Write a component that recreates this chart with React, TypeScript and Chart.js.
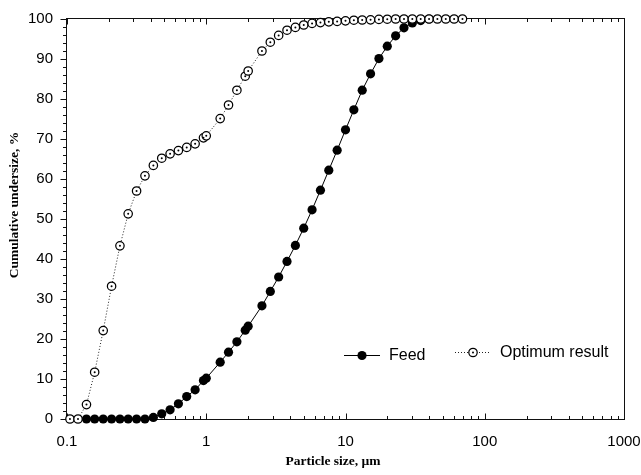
import React, { useEffect, useRef } from 'react';
import { Chart, registerables } from 'chart.js';

Chart.register(...registerables);

// ---- data ----
const FEED_SIZES = [
  0.138, 0.158, 0.182, 0.209, 0.24, 0.275, 0.316, 0.363, 0.417, 0.479, 0.55, 0.631, 0.724, 0.832,
  0.955, 1.0, 1.259, 1.445, 1.66, 1.905, 2.0, 2.512, 2.884, 3.311, 3.802, 4.365, 5.012, 5.754,
  6.607, 7.586, 8.71, 10.0, 11.482, 13.183, 15.136, 17.378, 19.953, 22.909, 26.303, 30.2, 34.674,
  39.811,
];
const FEED_VALUES = [
  0, 0, 0, 0, 0, 0, 0, 0, 0.4, 1.3, 2.3, 3.8, 5.6, 7.3,
  9.6, 10.2, 14.2, 16.7, 19.3, 22.2, 23.2, 28.3, 31.9, 35.5, 39.4, 43.4, 47.7, 52.3,
  57.2, 62.2, 67.2, 72.3, 77.3, 82.2, 86.3, 90.1, 93.2, 95.8, 97.8, 99.0, 99.6,
  100,
];
const OPT_SIZES = [
  0.105, 0.12, 0.138, 0.158, 0.182, 0.209, 0.24, 0.275, 0.316, 0.363, 0.417, 0.479, 0.55, 0.631,
  0.724, 0.832, 0.955, 1.0, 1.259, 1.445, 1.66, 1.905, 2.0, 2.512, 2.884, 3.311, 3.802, 4.365,
  5.012, 5.754, 6.607, 7.586, 8.71, 10.0, 11.482, 13.183, 15.136, 17.378, 19.953, 22.909, 26.303,
  30.2, 34.674, 39.811, 45.709, 52.481, 60.256, 69.183,
];
const OPT_VALUES = [
  0, 0, 3.6, 11.7, 22.1, 33.2, 43.3, 51.3, 57.0, 60.8, 63.4, 65.2, 66.3, 67.1,
  67.9, 68.8, 70.3, 70.8, 75.1, 78.5, 82.2, 85.7, 87.0, 92.0, 94.2, 95.9, 97.2, 97.9,
  98.5, 98.9, 99.1, 99.3, 99.4, 99.55, 99.7, 99.75, 99.8, 99.9, 99.95, 100, 100,
  100, 100, 100, 100, 100, 100, 100,
];
const SERIES_LABELS = ['Feed', 'Optimum result'];
const X_TICKS = [0.1, 1, 10, 100, 1000];
const X_TICK_LABELS = ['0.1', '1', '10', '100', '1000'];
const Y_TICKS = [0, 10, 20, 30, 40, 50, 60, 70, 80, 90, 100];
const Y_TICK_LABELS = ['0', '10', '20', '30', '40', '50', '60', '70', '80', '90', '100'];
const X_TITLE = 'Particle size, µm';
const Y_TITLE = 'Cumulative undersize, %';

const SANS = 'Arial, "Liberation Sans", sans-serif';
const SERIF = '"Times New Roman", "Liberation Serif", serif';

const OPEN_R = 4.2;
const OPEN_BW = 1.25;
const DOT_R = 1.0;

export default function App() {
  const ref = useRef<HTMLCanvasElement | null>(null);

  useEffect(() => {
    if (!ref.current) return;

    const framePlugin = {
      id: 'frameTicks',
      beforeDatasetsDraw(chart: any) {
        const { ctx, chartArea } = chart;
        const { left, right, top, bottom } = chartArea;
        const xs = chart.scales.x;
        const ys = chart.scales.y;
        ctx.save();
        ctx.strokeStyle = '#111';
        ctx.lineWidth = 1;
        const L = Math.round(left) - 0.5;
        const R = Math.round(right) + 0.5;
        const T = Math.round(top) - 0.5;
        const B = Math.round(bottom) + 0.5;
        ctx.strokeRect(L, T, R - L, B - T);
        ctx.beginPath();
        // x ticks (inward, bottom and top)
        for (let d = -1; d <= 3; d++) {
          for (let m = 1; m <= 9; m++) {
            const v = m * Math.pow(10, d);
            if (v > 1000.0001) break;
            const px = Math.round(xs.getPixelForValue(v)) + 0.5;
            const len = m === 1 ? 6 : 3.5;
            ctx.moveTo(px, B);
            ctx.lineTo(px, B - len);
            ctx.moveTo(px, T);
            ctx.lineTo(px, T + len);
          }
        }
        // y ticks (outward, left)
        for (let v = 0; v <= 100; v += 2) {
          const py = Math.round(ys.getPixelForValue(v)) + 0.5;
          const len = v % 10 === 0 ? 6 : 3.5;
          ctx.moveTo(L, py);
          ctx.lineTo(L - len, py);
        }
        ctx.stroke();
        ctx.restore();
      },
      afterDatasetsDraw(chart: any) {
        // centre dots of the open markers, at the library-computed point positions
        const { ctx } = chart;
        const meta = chart.getDatasetMeta(1);
        ctx.save();
        ctx.fillStyle = '#000';
        for (const el of meta.data) {
          ctx.beginPath();
          ctx.arc(el.x, el.y, DOT_R, 0, Math.PI * 2);
          ctx.fill();
        }
        ctx.restore();
      },
      afterDraw(chart: any) {
        const { ctx } = chart;
        ctx.save();
        ctx.fillStyle = '#000';
        // axis titles
        ctx.font = `bold 13.5px ${SERIF}`;
        ctx.textAlign = 'center';
        ctx.textBaseline = 'middle';
        ctx.fillText(X_TITLE, 333, 462);
        ctx.save();
        ctx.translate(14.5, 205);
        ctx.rotate(-Math.PI / 2);
        ctx.fillText(Y_TITLE, 0, 0);
        ctx.restore();

        // legend
        ctx.strokeStyle = '#000';
        ctx.lineWidth = 1;
        ctx.beginPath();
        ctx.moveTo(344, 355.5);
        ctx.lineTo(380, 355.5);
        ctx.stroke();
        ctx.beginPath();
        ctx.arc(362, 355.5, 4.6, 0, Math.PI * 2);
        ctx.fill();
        ctx.font = `16px ${SANS}`;
        ctx.textAlign = 'left';
        ctx.fillText(SERIES_LABELS[0], 389, 356);

        ctx.setLineDash([1, 2]);
        ctx.strokeStyle = '#222';
        ctx.beginPath();
        ctx.moveTo(455, 352.5);
        ctx.lineTo(491, 352.5);
        ctx.stroke();
        ctx.setLineDash([]);
        ctx.beginPath();
        ctx.arc(473, 352.5, OPEN_R, 0, Math.PI * 2);
        ctx.fillStyle = '#fff';
        ctx.fill();
        ctx.lineWidth = OPEN_BW;
        ctx.strokeStyle = '#000';
        ctx.stroke();
        ctx.fillStyle = '#000';
        ctx.beginPath();
        ctx.arc(473, 352.5, DOT_R, 0, Math.PI * 2);
        ctx.fill();
        ctx.fillText(SERIES_LABELS[1], 500, 353);
        ctx.restore();
      },
    };

    const chart = new Chart(ref.current, {
      type: 'line',
      data: {
        datasets: [
          {
            label: SERIES_LABELS[0],
            data: FEED_SIZES.map((s, i) => ({ x: s, y: FEED_VALUES[i] })),
            borderColor: '#000',
            borderWidth: 1,
            pointStyle: 'circle',
            pointRadius: 4.6,
            pointBackgroundColor: '#000',
            pointBorderColor: '#000',
            pointBorderWidth: 0,
            tension: 0,
            clip: false,
            order: 1,
          },
          {
            label: SERIES_LABELS[1],
            data: OPT_SIZES.map((s, i) => ({ x: s, y: OPT_VALUES[i] })),
            borderColor: '#222',
            borderWidth: 1,
            borderDash: [1, 2],
            pointStyle: 'circle',
            pointRadius: OPEN_R,
            pointBackgroundColor: '#fff',
            pointBorderColor: '#000',
            pointBorderWidth: OPEN_BW,
            tension: 0,
            clip: false,
            order: 0,
          },
        ] as any,
      },
      options: {
        animation: false,
        responsive: false,
        maintainAspectRatio: false,
        layout: { padding: { left: 0, top: 19, right: 17, bottom: 0 } },
        plugins: {
          legend: { display: false },
          tooltip: { enabled: false },
          title: { display: false },
        },
        scales: {
          x: {
            type: 'logarithmic',
            min: 0.1,
            max: 1000,
            position: 'bottom',
            grid: { display: false, drawTicks: false },
            border: { display: false },
            afterBuildTicks: (scale: any) => {
              scale.ticks = X_TICKS.map((v) => ({ value: v }));
            },
            afterFit: (scale: any) => {
              scale.height = 56;
              scale.paddingLeft = 0;
              scale.paddingRight = 0;
              scale.paddingTop = 0;
              scale.paddingBottom = 0;
            },
            ticks: {
              autoSkip: false,
              maxRotation: 0,
              minRotation: 0,
              padding: 14,
              color: '#000',
              font: { family: SANS, size: 15 },
              callback: (value: any) => {
                const i = X_TICKS.findIndex((t) => Math.abs(t - Number(value)) / t < 1e-6);
                return i >= 0 ? X_TICK_LABELS[i] : '';
              },
            },
          },
          y: {
            type: 'linear',
            min: 0,
            max: 100,
            grid: { display: false, drawTicks: false },
            border: { display: false },
            afterBuildTicks: (scale: any) => {
              scale.ticks = Y_TICKS.map((v) => ({ value: v }));
            },
            afterFit: (scale: any) => {
              scale.width = 67;
              scale.paddingLeft = 0;
              scale.paddingRight = 0;
              scale.paddingTop = 0;
              scale.paddingBottom = 0;
            },
            ticks: {
              autoSkip: false,
              padding: 14,
              color: '#000',
              font: { family: SANS, size: 15 },
              callback: (value: any) => {
                const i = Y_TICKS.indexOf(Number(value));
                return i >= 0 ? Y_TICK_LABELS[i] : '';
              },
            },
          },
        },
      } as any,
      plugins: [framePlugin],
    });

    return () => chart.destroy();
  }, []);

  return (
    <div style={{ position: 'fixed', left: 0, top: 0, width: 641, height: 475, background: '#fff' }}>
      <canvas ref={ref} width={641} height={475} />
    </div>
  );
}
